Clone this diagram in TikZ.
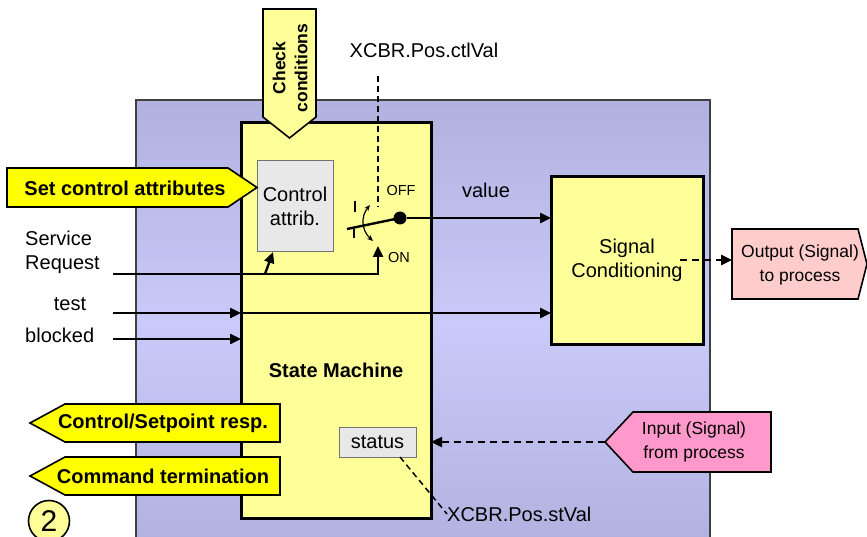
\documentclass[tikz,border=0pt]{standalone}
\usepackage{fontspec}
\setmainfont{Liberation Sans}
\usepackage{tikz}
\usetikzlibrary{positioning, arrows.meta}

\definecolor{paleyellow}{HTML}{FFFF99}
\definecolor{brightyellow}{HTML}{FFFF00}
\definecolor{lilacedge}{HTML}{B2B2E0}
\definecolor{lilaccentre}{HTML}{CACAFA}
\definecolor{attribgrey}{HTML}{E8E8E8}
\definecolor{outpink}{HTML}{FFCCCC}
\definecolor{inpink}{HTML}{FF99CC}

\tikzset{
  txt/.style={font=\fontsize{20}{24}\selectfont, align=center, inner sep=0pt},
  boldtxt/.style={font=\fontsize{20}{24}\selectfont\bfseries, align=center, inner sep=0pt},
  tagtxt/.style={font=\fontsize{17.5}{24}\selectfont, align=center, inner sep=0pt},
  tinytxt/.style={font=\fontsize{14.5}{16}\selectfont, inner sep=0pt},
  flag/.style={draw=black, line width=1.6pt, line join=miter},
  block/.style={draw=black, line width=3pt, fill=paleyellow, inner sep=0pt, outer sep=0pt},
  field/.style={draw=black!55, line width=1pt, fill=attribgrey, txt, outer sep=0pt},
  wire/.style={line width=2.4pt, -{Triangle[length=11pt, width=10pt]}},
  dashwire/.style={wire, dash pattern=on 7pt off 5pt},
  hint/.style={line width=1.5pt, dash pattern=on 6pt off 4pt}
}

\begin{document}
\begin{tikzpicture}[x=1pt, y=-1pt]
    \useasboundingbox (0,0) rectangle (867,537);

    % Draw device frame, lighter towards the middle
    \foreach \i in {0,...,45} {
      \pgfmathsetmacro{\mix}{100*abs(\i-22)/22}
      \fill[lilacedge!\mix!lilaccentre] (136,100+\i*10) rectangle (710,111+\i*10);
    }
    \draw[line width=1.2pt, black!75] (136,560) -- (136,100) -- (710,100) -- (710,560);

    % Main blocks
    \node[block, minimum width=190, minimum height=395, anchor=north west] (sm) at (241,123) {};
    \node[boldtxt] (smlbl) at (336,370) {State Machine};
    \node[block, txt, minimum width=152, minimum height=167] (sigc) at (627,260.5) {Signal\\Conditioning};
    \node[field, minimum width=76, minimum height=91, anchor=north west] (ctrl) at (257,161) {Control\\attrib.};
    \node[field, minimum width=77, minimum height=30] (status) at (377.5,442) {status};

    % Check conditions tag
    \draw[flag, fill=paleyellow] (263,9) -- (316,9) -- (316,117) -- (289.5,138) -- (263,117) -- cycle;
    \node[font=\fontsize{17.5}{22}\selectfont\bfseries, align=center, inner sep=0pt, rotate=90] (chk) at (290,68) {Check\\conditions};

    % Set control attributes tag
    \draw[flag, fill=brightyellow] (7,168) -- (228,168) -- (257,187.5) -- (228,207) -- (7,207) -- cycle;
    \node[boldtxt] (setattr) at (125,188) {Set control attributes};

    % Response tags
    \foreach \y/\n/\t in {423/resp/{Control/Setpoint resp.}, 476/term/{Command termination}} {
      \draw[flag, fill=brightyellow] (280,\y-19) -- (65,\y-19) -- (30,\y) -- (65,\y+19) -- (280,\y+19) -- cycle;
      \node[boldtxt] (\n) at (163,\y) {\t};
    }

    % Process tags
    \draw[flag, fill=outpink] (732,229) -- (858,229) -- (867,264) -- (858,299) -- (732,299) -- cycle;
    \node[tagtxt] (outp) at (800,264.5) {Output (Signal)\\to process};
    \draw[flag, fill=inpink] (771,412) -- (633,412) -- (605,442) -- (633,472) -- (771,472) -- cycle;
    \node[tagtxt] (inp) at (694,442) {Input (Signal)\\from process};
    \coordinate (outtip) at (732,260);
    \coordinate (sigtap) at (680,260);
    \coordinate (intip) at (605,442);
    \draw[dashwire] (sigtap) -- (outtip);
    \draw[dashwire] (intip) -- (sm.east |- intip);

    % Inputs on the left
    \node[txt, align=left, anchor=west] (sreq) at (25,252) {Service\\Request};
    \node[txt] (test) at (70,304) {test};
    \node[txt, anchor=west] (blk) at (25,335) {blocked};
    \coordinate (sreqin) at (113,274);
    \coordinate (testin) at (113,313);
    \coordinate (blkin) at (113,339);
    \coordinate (onpin) at (378,246);
    \coordinate (tap) at (265,274);
    \coordinate (ctrlfoot) at (273,252);
    \draw[wire] (sreqin) -- (onpin |- sreqin) -- (onpin);
    \draw[wire] (tap) -- (ctrlfoot);
    \draw[wire] (testin) -- (sm.west |- testin);
    \draw[wire] (sm.west |- testin) -- (sigc.west |- testin);
    \draw[wire] (blkin) -- (sm.west |- blkin);

    % Switch
    \node[circle, fill=black, inner sep=0pt, minimum size=13] (pivot) at (400,218) {};
    \coordinate (bladeend) at (347,229);
    \draw[line width=2.4pt] (bladeend) -- (pivot.center);
    \draw[line width=1.8pt] (355,201) -- (355,212) (354,229) -- (354,238);
    \draw[line width=1.2pt, {Stealth[length=6pt,width=5pt]}-{Stealth[length=6pt,width=5pt]}] (370,205) .. controls (361,216) and (361,230) .. (373,241);
    \node[tinytxt] (offlbl) at (401,191) {OFF};
    \node[tinytxt] (onlbl) at (399,258) {ON};
    \draw[wire] (pivot) -- (sigc.west |- pivot);
    \node[txt] (val) at (486,190) {value};

    % Data object references
    \node[txt] (ctlval) at (424,50) {XCBR.Pos.ctlVal};
    \coordinate (ctltop) at (378,76);
    \coordinate (ctlend) at (378,207);
    \draw[hint] (ctltop) -- (ctlend);
    \node[txt, anchor=west] (stval) at (447,514) {XCBR.Pos.stVal};
    \coordinate (stfoot) at (400,457);
    \draw[hint] (stfoot) -- (stval.west);

    % Step number
    \node[circle, draw, line width=1.6pt, fill=paleyellow, minimum size=41, inner sep=0pt, font=\fontsize{30}{30}\selectfont] (stepno) at (49,521) {2};
\end{tikzpicture}
\end{document}
